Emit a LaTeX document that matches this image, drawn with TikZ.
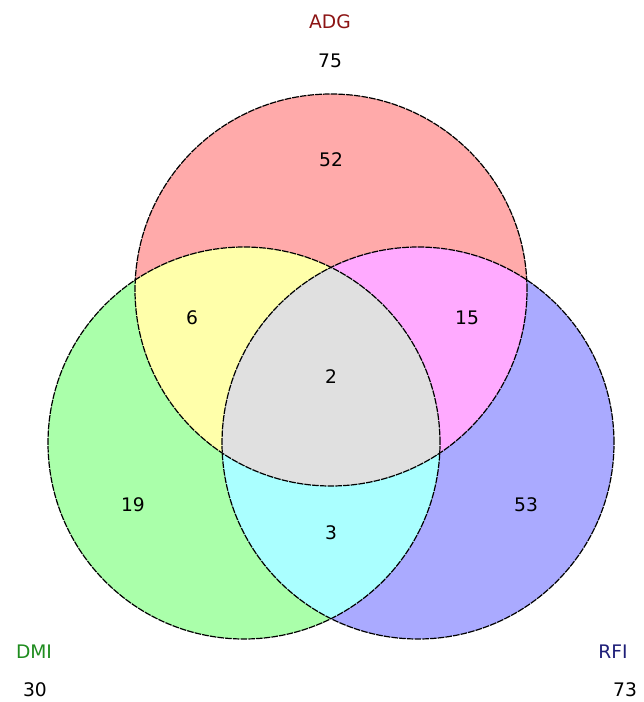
\documentclass[tikz,border=0pt]{standalone}
\usepackage{fontspec}
\setmainfont{DejaVu Sans}
\definecolor{cred}{RGB}{255,170,170}
\definecolor{cgreen}{RGB}{170,255,170}
\definecolor{cblue}{RGB}{170,170,255}
\definecolor{cyel}{RGB}{255,255,170}
\definecolor{cmag}{RGB}{255,170,255}
\definecolor{ccyan}{RGB}{170,255,255}
\definecolor{cgray}{RGB}{224,224,224}
\definecolor{tred}{RGB}{140,20,20}
\definecolor{tgreen}{RGB}{30,140,30}
\definecolor{tblue}{RGB}{30,30,120}
\tikzset{
  lbl/.style={font=\fontsize{14}{16}\selectfont, text=black, inner sep=0pt},
  ring/.style={draw=black, line width=0.9pt, dash pattern=on 5pt off 0.8pt},
}
\def\R{147pt}
\begin{document}
\begin{tikzpicture}[x=0.75pt,y=-0.75pt]
\useasboundingbox[fill=white] (0,0) rectangle (643,702);
\coordinate (T) at (331,290);
\coordinate (L) at (244,443);
\coordinate (Rc) at (418,443);
% base fills
\fill[cred] (T) circle[radius=\R];
\fill[cgreen] (L) circle[radius=\R];
\fill[cblue] (Rc) circle[radius=\R];
% pairwise
\begin{scope}\clip (T) circle[radius=\R]; \fill[cyel] (L) circle[radius=\R];\end{scope}
\begin{scope}\clip (T) circle[radius=\R]; \fill[cmag] (Rc) circle[radius=\R];\end{scope}
\begin{scope}\clip (L) circle[radius=\R]; \fill[ccyan] (Rc) circle[radius=\R];\end{scope}
\begin{scope}\clip (T) circle[radius=\R]; \clip (L) circle[radius=\R]; \fill[cgray] (Rc) circle[radius=\R];\end{scope}
% outlines
\draw[ring] (T) circle[radius=\R];
\draw[ring] (L) circle[radius=\R];
\draw[ring] (Rc) circle[radius=\R];
% set labels
\node[lbl, text=tred] (adg) at (330,22) {ADG};
\node[lbl] (adgn) at (330,61) {75};
\node[lbl, text=tgreen] (dmi) at (34,652) {DMI};
\node[lbl] (dmin) at (35,690) {30};
\node[lbl, text=tblue] (rfi) at (613,652) {RFI};
\node[lbl] (rfin) at (625,690) {73};
% region counts
\node[lbl] (n52) at (331,160) {52};
\node[lbl] (n6) at (192,318) {6};
\node[lbl] (n15) at (467,318) {15};
\node[lbl] (n2) at (331,377) {2};
\node[lbl] (n19) at (133,505) {19};
\node[lbl] (n3) at (331,533) {3};
\node[lbl] (n53) at (526,505) {53};
\end{tikzpicture}
\end{document}
